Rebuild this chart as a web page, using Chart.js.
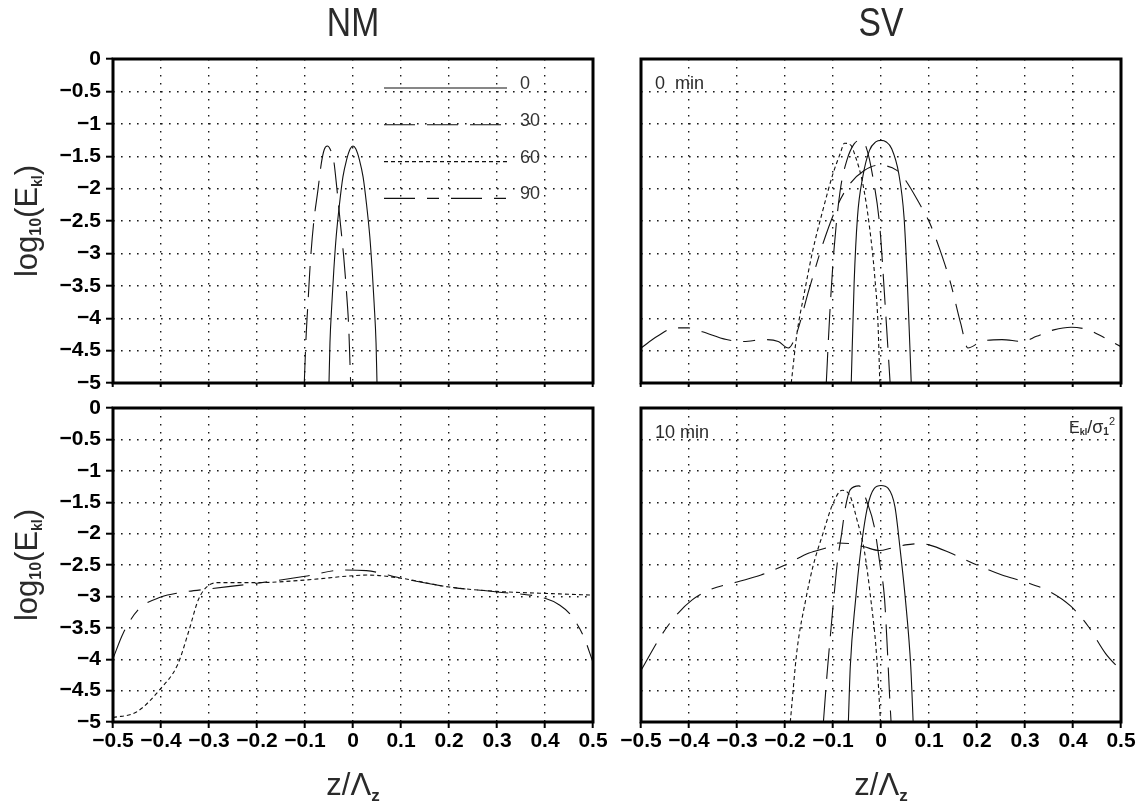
<!DOCTYPE html>
<html><head><meta charset="utf-8">
<script src="https://cdn.jsdelivr.net/npm/chart.js@4/dist/chart.umd.min.js"></script>
<style>
html,body{margin:0;padding:0;background:#fff;}
body{width:1142px;height:805px;position:relative;overflow:hidden;}
canvas{position:absolute;}
</style></head><body>
<canvas id="tl" width="620" height="410" style="left:0;top:0;width:620px;height:410px"></canvas>
<canvas id="tr" width="542" height="410" style="left:600px;top:0;width:542px;height:410px"></canvas>
<canvas id="bl" width="620" height="430" style="left:0;top:375px;width:620px;height:430px"></canvas>
<canvas id="br" width="542" height="430" style="left:600px;top:375px;width:542px;height:430px"></canvas>
<script>
// ---------- axis ticks / labels ----------
const zTicks = [-0.5,-0.4,-0.3,-0.2,-0.1,0,0.1,0.2,0.3,0.4,0.5];
const zTickLabels = ['−0.5','−0.4','−0.3','−0.2','−0.1','0','0.1','0.2','0.3','0.4','0.5'];
const eTicks = [0,-0.5,-1,-1.5,-2,-2.5,-3,-3.5,-4,-4.5,-5];
const eTickLabels = ['0','−0.5','−1','−1.5','−2','−2.5','−3','−3.5','−4','−4.5','−5'];
const seriesLabels = ['0','30','60','90'];
const panelTitles = ['NM','SV'];
const cornerTexts = ['0  min','10 min'];

// ---------- NM, 0 min (top left) ----------
const tl0_z = [-0.050,-0.048,-0.044,-0.040,-0.035,-0.028,-0.021,-0.0135,-0.006,0,0.006,0.0135,0.021,0.028,0.035,0.040,0.044,0.048,0.050];
const tl0_y = [-5,-4.38,-3.77,-3.26,-2.74,-2.23,-1.82,-1.56,-1.39,-1.343,-1.39,-1.56,-1.82,-2.23,-2.74,-3.26,-3.77,-4.38,-5];
const tl30_z = [-0.1015,-0.098,-0.093,-0.089,-0.082,-0.073,-0.066,-0.060,-0.0535,-0.047,-0.0403,-0.0333,-0.0264,-0.0194,-0.0139,-0.009,-0.0049];
const tl30_y = [-5,-4.33,-3.66,-3.15,-2.53,-2.02,-1.61,-1.40,-1.343,-1.40,-1.56,-2.02,-2.53,-3.05,-3.56,-4.13,-5];

// ---------- SV, 0 min (top right) ----------
const tr0_z = [-0.062,-0.056,-0.049,-0.038,-0.024,-0.011,0,0.011,0.022,0.037,0.048,0.055,0.063];
const tr0_y = [-5,-3.46,-2.44,-1.82,-1.41,-1.28,-1.256,-1.28,-1.38,-1.77,-2.44,-3.46,-5];
const tr30_z = [-0.114,-0.107,-0.098,-0.085,-0.071,-0.056,-0.044,-0.031,-0.017,-0.0025,0.008,0.019];
const tr30_y = [-5,-3.97,-2.95,-2.03,-1.56,-1.31,-1.256,-1.36,-1.82,-2.59,-3.72,-5];
const tr60_z = [-0.187,-0.175,-0.16,-0.142,-0.121,-0.1,-0.085,-0.076,-0.063,-0.053,-0.038,-0.024,-0.013,-0.006,-0.0025];
const tr60_y = [-5,-4.23,-3.62,-2.95,-2.33,-1.77,-1.46,-1.30,-1.33,-1.51,-1.92,-2.59,-3.36,-4.13,-5];
const tr90_z = [-0.5,-0.466,-0.43,-0.401,-0.372,-0.322,-0.286,-0.243,-0.214,-0.193,-0.178,-0.15,-0.121,-0.092,-0.064,-0.035,-0.006,0.033,0.051,0.08,0.102,0.123,0.145,0.166,0.181,0.209,0.252,0.295,0.324,0.36,0.396,0.432,0.46,0.5];
const tr90_y = [-4.46,-4.28,-4.15,-4.15,-4.21,-4.33,-4.36,-4.33,-4.36,-4.46,-4.28,-3.56,-2.85,-2.28,-1.92,-1.72,-1.64,-1.718,-1.87,-2.23,-2.54,-2.95,-3.46,-4.08,-4.46,-4.36,-4.33,-4.36,-4.28,-4.18,-4.14,-4.18,-4.28,-4.44];

// ---------- NM, 10 min (bottom left) ----------
const bl60_z = [-0.5,-0.451,-0.402,-0.365,-0.342,-0.322,-0.3,-0.277,-0.2,-0.1,0,0.03,0.1,0.2,0.3,0.43,0.5];
const bl60_y = [-4.93,-4.84,-4.48,-4.08,-3.55,-3.05,-2.82,-2.78,-2.78,-2.74,-2.67,-2.66,-2.71,-2.85,-2.92,-2.96,-2.98];
const bl90_z = [-0.5,-0.479,-0.447,-0.4,-0.36,-0.3,-0.2,-0.1,-0.02,0.028,0.1,0.2,0.3,0.4,0.431,0.452,0.48,0.5];
const bl90_y = [-3.99,-3.59,-3.21,-3.01,-2.94,-2.88,-2.79,-2.68,-2.58,-2.59,-2.71,-2.85,-2.93,-3.03,-3.14,-3.28,-3.63,-4.05];

// ---------- SV, 10 min (bottom right) ----------
const br0_z = [-0.068,-0.064,-0.053,-0.042,-0.028,-0.014,0,0.015,0.029,0.04,0.051,0.062,0.067];
const br0_y = [-5,-4.12,-3.06,-2.26,-1.57,-1.28,-1.234,-1.28,-1.57,-2.26,-3.06,-4.12,-5];
const br30_z = [-0.12,-0.112,-0.104,-0.098,-0.09,-0.082,-0.075,-0.064,-0.046,-0.028,-0.014,-0.002,0.007,0.013,0.018,0.021];
const br30_y = [-5,-4.2,-3.5,-3.0,-2.4,-2.0,-1.62,-1.3,-1.24,-1.52,-1.89,-2.5,-3.0,-3.8,-4.6,-5];
const br60_z = [-0.189,-0.175,-0.157,-0.142,-0.121,-0.1,-0.081,-0.064,-0.05,-0.035,-0.021,-0.01,-0.001];
const br60_y = [-5,-3.86,-3.06,-2.53,-2.0,-1.52,-1.31,-1.41,-1.78,-2.26,-3.06,-3.86,-5];
const br90_z = [-0.5,-0.455,-0.423,-0.394,-0.358,-0.3,-0.25,-0.2,-0.15,-0.107,-0.089,-0.064,-0.035,-0.003,0.022,0.051,0.08,0.1,0.145,0.2,0.252,0.3,0.353,0.396,0.432,0.468,0.5];
const br90_y = [-4.18,-3.59,-3.27,-3.06,-2.9,-2.77,-2.66,-2.5,-2.31,-2.21,-2.15,-2.16,-2.21,-2.27,-2.23,-2.18,-2.16,-2.18,-2.31,-2.5,-2.66,-2.77,-2.93,-3.16,-3.48,-3.91,-4.18];

// ---------- styles ----------
const seriesDash = [[], [31,12], [4,3], [31,12,12,12]];
const NARROW = "'Liberation Sans Narrow','Liberation Sans',sans-serif";
const TICKFONT = {family: "'Liberation Sans',Arial,sans-serif", size: 21, weight: 'bold'};
const INK = '#000';
const TXT = '#2a2a2a';

function ds(zArr, yArr, k) {
  return {
    label: seriesLabels[k],
    data: zArr.map((z, i) => ({x: z, y: yArr[i]})),
    borderColor: '#111', borderWidth: 1.1, borderDash: seriesDash[k],
    pointRadius: 0, fill: false, cubicInterpolationMode: 'monotone'
  };
}

function drawRich(ctx, parts, x, y, align) {
  let total = 0;
  const widths = parts.map(p => {
    ctx.font = (p.weight || 'normal') + ' ' + p.size + 'px ' + NARROW;
    const w = ctx.measureText(p.t).width; total += w; return w;
  });
  let cx = align === 'center' ? x - total / 2 : (align === 'right' ? x - total : x);
  ctx.textAlign = 'left'; ctx.textBaseline = 'alphabetic';
  parts.forEach((p, i) => {
    ctx.font = (p.weight || 'normal') + ' ' + p.size + 'px ' + NARROW;
    ctx.fillText(p.t, cx, y + (p.dy || 0));
    cx += widths[i];
  });
}

const decorPlugin = {
  id: 'decor',
  afterDraw(chart, args, o) {
    const {ctx, chartArea: a} = chart;
    const cxm = (a.left + a.right) / 2, cym = (a.top + a.bottom) / 2;
    ctx.save();
    ctx.setLineDash([]);
    ctx.strokeStyle = INK; ctx.lineWidth = 3;
    ctx.strokeRect(a.left, a.top, a.right - a.left, a.bottom - a.top);
    ctx.fillStyle = TXT;
    if (o.title) {
      ctx.save();
      ctx.translate(cxm, 36); ctx.scale(0.82, 1);
      drawRich(ctx, [{t: o.title, size: 41}], 0, 0, 'center');
      ctx.restore();
    }
    if (o.ylabel) {
      ctx.save();
      ctx.translate(37, cym); ctx.rotate(-Math.PI / 2);
      drawRich(ctx, [{t: 'log', size: 31}, {t: '10', size: 16, dy: 4, weight: 'bold'},
                     {t: '(E', size: 31}, {t: 'kl', size: 14, dy: 5, weight: 'bold'}, {t: ')', size: 31}], 0, 0, 'center');
      ctx.restore();
    }
    if (o.xlabel) {
      drawRich(ctx, [{t: 'z/Λ', size: 31}, {t: 'z', size: 17, dy: 6, weight: 'bold'}], cxm, o.xlabelY, 'center');
    }
    if (o.corner) {
      drawRich(ctx, [{t: o.corner, size: 18}], a.left + 14, a.top + 30, 'left');
    }
    if (o.ratio) {
      drawRich(ctx, [{t: 'E', size: 16}, {t: 'kl', size: 9, dy: 2, weight: 'bold'}, {t: '/', size: 18},
                     {t: 'σ', size: 18}, {t: '1', size: 10, dy: 2, weight: 'bold'}, {t: '2', size: 11, dy: -8}], a.right - 6, a.top + 25, 'right');
    }
    if (o.legend) {
      chart.data.datasets.forEach((d, i) => {
        const y = a.top + 29 + i * 36.8;
        ctx.strokeStyle = '#111'; ctx.lineWidth = 1.1; ctx.setLineDash(seriesDash[i]);
        ctx.beginPath(); ctx.moveTo(a.left + 271, y); ctx.lineTo(a.left + 394, y); ctx.stroke();
        ctx.setLineDash([]);
        ctx.fillStyle = '#333';
        drawRich(ctx, [{t: d.label, size: 18}], a.left + 407, y + 1, 'left');
      });
    }
    ctx.restore();
  }
};

function lookup(vals, labels, v) {
  for (let j = 0; j < vals.length; j++) if (Math.abs(vals[j] - v) < 1e-9) return labels[j];
  return '';
}

function makeChart(id, datasets, opt) {
  return new Chart(document.getElementById(id), {
    type: 'line',
    data: {datasets},
    options: {
      responsive: false, animation: false, devicePixelRatio: 1,
      layout: {padding: opt.padding},
      plugins: {legend: {display: false}, tooltip: {enabled: false}, decor: opt.decor},
      scales: {
        x: {
          type: 'linear', min: -0.5, max: 0.5,
          afterBuildTicks: s => { s.ticks = zTicks.map(v => ({value: v})); },
          afterFit: s => { s.height = opt.xh; },
          ticks: {display: opt.xLabels, autoSkip: false, maxRotation: 0, minRotation: 0,
                  font: TICKFONT, color: INK, padding: 1,
                  callback: v => lookup(zTicks, zTickLabels, v)},
          grid: {color: '#1a1a1a', lineWidth: 1.4, drawTicks: true, tickLength: opt.xTick,
                 tickWidth: 2, tickColor: INK},
          border: {display: false, dash: [1.6, 6.4]}
        },
        y: {
          type: 'linear', min: -5, max: 0,
          afterBuildTicks: s => { s.ticks = eTicks.slice().reverse().map(v => ({value: v})); },
          afterFit: s => { s.width = opt.yw; },
          ticks: {display: opt.yLabels, autoSkip: false, font: TICKFONT, color: INK, padding: 5,
                  callback: v => lookup(eTicks, eTickLabels, v)},
          grid: {color: '#1a1a1a', lineWidth: 1.4, drawTicks: opt.yLabels, tickLength: 7,
                 tickWidth: 2, tickColor: INK},
          border: {display: false, dash: [1.6, 6.4]}
        }
      }
    },
    plugins: [decorPlugin]
  });
}

makeChart('tl', [ds(tl0_z, tl0_y, 0), ds(tl30_z, tl30_y, 1), ds([], [], 2), ds([], [], 3)], {
  padding: {left: 0, right: 27, top: 59, bottom: 0}, xh: 27, yw: 113, xTick: 4, xLabels: false, yLabels: true,
  decor: {title: panelTitles[0], ylabel: true, legend: true}
});
makeChart('tr', [ds(tr0_z, tr0_y, 0), ds(tr30_z, tr30_y, 1), ds(tr60_z, tr60_y, 2), ds(tr90_z, tr90_y, 3)], {
  padding: {left: 41, right: 21, top: 59, bottom: 0}, xh: 27, yw: 0, xTick: 4, xLabels: false, yLabels: false,
  decor: {title: panelTitles[1], corner: cornerTexts[0]}
});
makeChart('bl', [ds(bl60_z, bl60_y, 2), ds(bl90_z, bl90_y, 3)], {
  padding: {left: 0, right: 27, top: 33, bottom: 0}, xh: 83, yw: 113, xTick: 6, xLabels: true, yLabels: true,
  decor: {ylabel: true, xlabel: true, xlabelY: 420}
});
makeChart('br', [ds(br0_z, br0_y, 0), ds(br30_z, br30_y, 1), ds(br60_z, br60_y, 2), ds(br90_z, br90_y, 3)], {
  padding: {left: 41, right: 21, top: 33, bottom: 0}, xh: 83, yw: 0, xTick: 6, xLabels: true, yLabels: false,
  decor: {xlabel: true, xlabelY: 420, corner: cornerTexts[1], ratio: true}
});
</script>
</body></html>
